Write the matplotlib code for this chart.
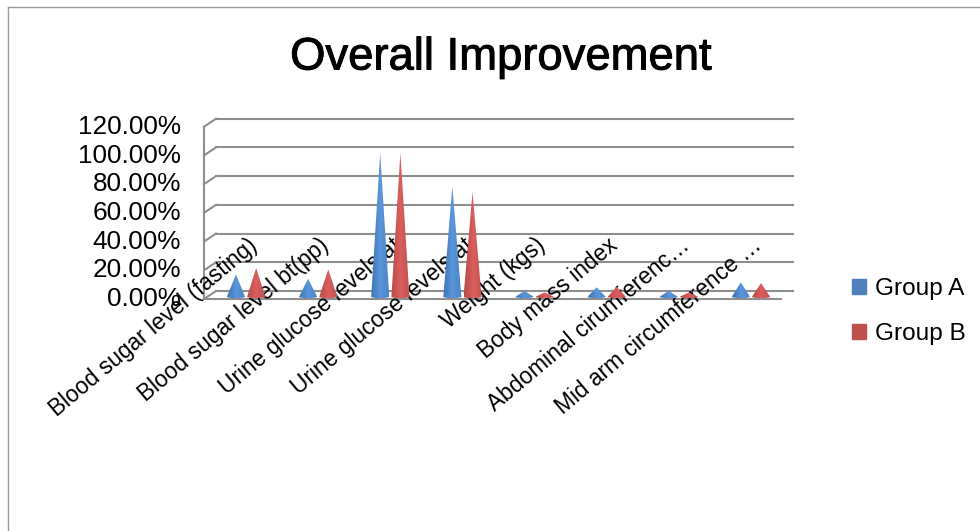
import matplotlib
matplotlib.use('Agg')
import matplotlib.patheffects as pe
import matplotlib.pyplot as plt
import matplotlib.transforms as mtransforms
import numpy as np
from matplotlib.colors import LinearSegmentedColormap
from matplotlib.lines import Line2D
from matplotlib.patches import Patch, Polygon

categories = ['Blood sugar level (fasting)', 'Blood sugar level bt(pp)',
              'Urine glucose levels at', 'Urine glucose levels at',
              'Weight (kgs)', 'Body mass index',
              'Abdominal cirumferenc…', 'Mid arm circumference …']
group_a = [15.5, 12.5, 100, 77, 4, 6.5, 4, 10]
group_b = [20, 19, 100, 73, 3, 7, 3, 9.5]
y_ticks = [0, 20, 40, 60, 80, 100, 120]

W, H = 980, 531
GRID = '#8e8e8e'

plt.rcParams['font.family'] = ['Liberation Sans', 'DejaVu Sans']

fig = plt.figure(figsize=(W / 100, H / 100), dpi=100)

# axes box is the middle of the 3d depth, walls get shifted from it
left, right, base, top = 210, 787, 296.7, 124.4
ax = fig.add_axes([left / W, 1 - base / H, (right - left) / W, (base - top) / H])
ax.patch.set_alpha(0)
for s in ax.spines.values():
    s.set_visible(False)

x0, x1 = -0.5, len(categories) - 0.5
ax.set_xlim(x0, x1)
ax.set_ylim(0, 120)

back = ax.transData + mtransforms.Affine2D().translate(6, 5.7)
front = ax.transData + mtransforms.Affine2D().translate(-6, -2.3)

for v in y_ticks:
    ax.plot([x0, x1], [v, v], color=GRID, lw=1.5, transform=back, clip_on=False, zorder=1)
    p, q = front.transform((x0, v)), back.transform((x0, v))
    ax.add_artist(Line2D([p[0], q[0]], [p[1], q[1]], color=GRID, lw=1.5,
                         transform=None, clip_on=False, zorder=1))
ax.plot([x0, x0], [0, 120], color=GRID, lw=1.5, transform=front, clip_on=False, zorder=1)
ax.plot([x0, x1], [0, 0], color=GRID, lw=1.5, transform=front, clip_on=False, zorder=1)


def draw_cone(x, value, colors, width=0.25, foot=1.0):
    """
    Cone with a sideways gradient, the image is clipped to the outline.
    """
    t = np.linspace(np.pi, 2 * np.pi, 20)
    outline = [(x, value)] + list(zip(x + width / 2 * np.cos(t), foot * np.sin(t)))
    shape = Polygon(outline, closed=True, transform=ax.transData, fc='none', ec='none')
    ax.add_patch(shape)
    cmap = LinearSegmentedColormap.from_list('cone', colors)
    im = ax.imshow(np.linspace(0, 1, 32).reshape(1, -1), cmap=cmap, aspect='auto', zorder=2,
                   extent=(x - width / 2, x + width / 2, -foot, value), interpolation='bilinear')
    im.set_clip_path(shape)
    im.set_clip_box(fig.bbox)


blues = ['#3f74b5', '#5b96dc', '#4a82c4']
reds = ['#b84a48', '#d95f5c', '#c0504d']
gap = 0.14
for i in range(len(categories)):
    draw_cone(i - gap, group_a[i], blues)
    draw_cone(i + gap, group_b[i], reds)

ax.set_xlim(x0, x1)
ax.set_ylim(0, 120)
ax.set_yticks(y_ticks)
ax.set_yticklabels(['{0:.2f}%'.format(v) for v in y_ticks])
ax.tick_params(axis='y', length=0, pad=21, labelsize=18.8)
ax.tick_params(axis='x', length=0, pad=-39, labelsize=16.4)
ax.set_xticks(range(len(categories)))
ax.set_xticklabels(categories, rotation=40, ha='right', va='center', rotation_mode='anchor')
shift = mtransforms.Affine2D().translate(8, 0)
for label in ax.get_xticklabels():
    label.set_transform(label.get_transform() + shift)
    label.set_zorder(5)

fig.text(500.5 / W, 1 - 58 / H, 'Overall Improvement', fontsize=32.7, ha='center', va='center',
         path_effects=[pe.withStroke(linewidth=0.7, foreground='black')])

fig.legend(handles=[Patch(color='#4f81bd', label='Group A'), Patch(color='#c0504d', label='Group B')],
           loc='center left', bbox_to_anchor=(842 / W, 1 - 311.5 / H), frameon=False, fontsize=17.6,
           handlelength=0.57, handleheight=0.57, handletextpad=0.37, labelspacing=0.92,
           borderpad=0, borderaxespad=0.4)

# outer frame of the chart, right and bottom sides are cut off
fig.add_artist(Line2D([8 / W, 1], [1 - 7 / H, 1 - 7 / H], color='#9a9a9a', lw=1))
fig.add_artist(Line2D([8 / W, 8 / W], [0, 1 - 7 / H], color='#9a9a9a', lw=1))

fig.savefig('out.png', dpi=100)
